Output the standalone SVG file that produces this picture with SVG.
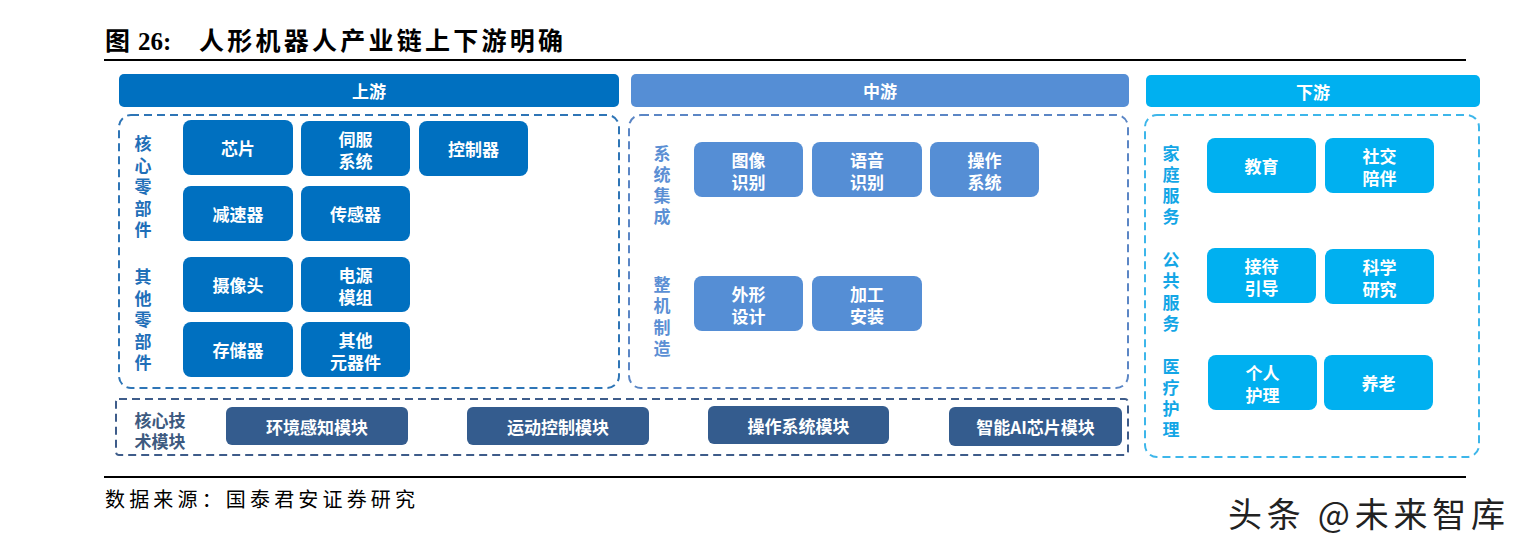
<svg xmlns="http://www.w3.org/2000/svg" width="1523" height="546" viewBox="0 0 1523 546">
<style>
.t{font-family:"Noto Sans CJK SC","Noto Sans",sans-serif;font-weight:700;}
.nt{font-family:"Noto Sans CJK SC","Noto Sans",sans-serif;font-weight:700;font-size:17px;fill:#fff;text-anchor:middle;dominant-baseline:central;}
.lb{font-family:"Noto Sans CJK SC","Noto Sans",sans-serif;font-weight:700;font-size:17px;text-anchor:middle;dominant-baseline:central;}
.up{fill:#0070C0;}
.mid{fill:#558ED5;}
.down{fill:#00B0F0;}
.core{fill:#345C8E;}
.dash{fill:none;stroke-width:2;stroke-dasharray:8 5;}
</style>
<rect width="1523" height="546" fill="#fff"/>
<g id="title">
<text x="105" y="50" class="t" font-size="25" fill="#000">图</text>
<text x="138" y="50" font-family="Liberation Serif,serif" font-weight="700" font-size="25" fill="#000">26:</text>
<text x="199" y="50" class="t" font-size="25" fill="#000" textLength="364" lengthAdjust="spacing">人形机器人产业链上下游明确</text>
<rect x="104" y="59" width="1362" height="2" fill="#000"/>
</g>
<g id="headers">
<rect x="119" y="74" width="500" height="33" rx="5" class="up"/>
<text x="369" y="90.5" class="nt" font-size="16">上游</text>
<rect x="631" y="74" width="498" height="33" rx="5" class="mid"/>
<text x="880" y="90.5" class="nt" font-size="16">中游</text>
<rect x="1146" y="75" width="334" height="32" rx="5" class="down"/>
<text x="1313" y="91" class="nt" font-size="16">下游</text>
</g>
<g id="frames">
<rect x="119" y="115" width="500" height="273" rx="12" class="dash" stroke="#2E75B6"/>
<rect x="629" y="115" width="499" height="273" rx="12" class="dash" stroke="#5B86C5"/>
<rect x="1145" y="115" width="334" height="342" rx="12" class="dash" stroke="#3DB6EA"/>
<rect x="116" y="399" width="1012" height="56" rx="3" class="dash" stroke="#3E5C8A"/>
</g>
<g id="labels">
<text class="lb" fill="#1F6FB8"><tspan x="143" y="142">核</tspan><tspan x="143" y="163.5">心</tspan><tspan x="143" y="185">零</tspan><tspan x="143" y="206.5">部</tspan><tspan x="143" y="228">件</tspan></text>
<text class="lb" fill="#1F6FB8"><tspan x="143" y="275">其</tspan><tspan x="143" y="296.5">他</tspan><tspan x="143" y="318">零</tspan><tspan x="143" y="339.5">部</tspan><tspan x="143" y="361">件</tspan></text>
<text class="lb" fill="#5B8FD4"><tspan x="662" y="152">系</tspan><tspan x="662" y="173">统</tspan><tspan x="662" y="194">集</tspan><tspan x="662" y="215">成</tspan></text>
<text class="lb" fill="#5B8FD4"><tspan x="662" y="283">整</tspan><tspan x="662" y="304">机</tspan><tspan x="662" y="325.5">制</tspan><tspan x="662" y="347">造</tspan></text>
<text class="lb" fill="#13A6E6"><tspan x="1171" y="152">家</tspan><tspan x="1171" y="173">庭</tspan><tspan x="1171" y="194">服</tspan><tspan x="1171" y="215">务</tspan></text>
<text class="lb" fill="#13A6E6"><tspan x="1171" y="258">公</tspan><tspan x="1171" y="279">共</tspan><tspan x="1171" y="300.5">服</tspan><tspan x="1171" y="322">务</tspan></text>
<text class="lb" fill="#13A6E6"><tspan x="1171" y="365">医</tspan><tspan x="1171" y="386">疗</tspan><tspan x="1171" y="407">护</tspan><tspan x="1171" y="428">理</tspan></text>
<text class="lb" fill="#3D5A80" font-size="16"><tspan x="160" y="419">核心技</tspan><tspan x="160" y="440">术模块</tspan></text>
</g>
<g id="n-chip"><rect x="183" y="120" width="110" height="55" rx="8" class="up"/><text x="238" y="147.5" class="nt">芯片</text></g>
<g id="n-servo"><rect x="301" y="121" width="109" height="55" rx="8" class="up"/><text class="nt"><tspan x="355.5" y="137.5">伺服</tspan><tspan x="355.5" y="159.5">系统</tspan></text></g>
<g id="n-controller"><rect x="419" y="121" width="109" height="55" rx="8" class="up"/><text x="473.5" y="148.5" class="nt">控制器</text></g>
<g id="n-reducer"><rect x="183" y="186" width="110" height="55" rx="8" class="up"/><text x="238" y="213.5" class="nt">减速器</text></g>
<g id="n-sensor"><rect x="301" y="186" width="109" height="55" rx="8" class="up"/><text x="355.5" y="213.5" class="nt">传感器</text></g>
<g id="n-camera"><rect x="183" y="257" width="110" height="55" rx="8" class="up"/><text x="238" y="284.5" class="nt">摄像头</text></g>
<g id="n-power"><rect x="301" y="257" width="109" height="55" rx="8" class="up"/><text class="nt"><tspan x="355.5" y="273.5">电源</tspan><tspan x="355.5" y="295.5">模组</tspan></text></g>
<g id="n-storage"><rect x="183" y="322" width="110" height="55" rx="8" class="up"/><text x="238" y="349.5" class="nt">存储器</text></g>
<g id="n-other"><rect x="301" y="322" width="109" height="55" rx="8" class="up"/><text class="nt"><tspan x="355.5" y="338.5">其他</tspan><tspan x="355.5" y="360.5">元器件</tspan></text></g>
<g id="n-image"><rect x="694" y="142" width="109" height="55" rx="8" class="mid"/><text class="nt"><tspan x="748.5" y="158.5">图像</tspan><tspan x="748.5" y="180.5">识别</tspan></text></g>
<g id="n-voice"><rect x="812" y="142" width="110" height="55" rx="8" class="mid"/><text class="nt"><tspan x="867" y="158.5">语音</tspan><tspan x="867" y="180.5">识别</tspan></text></g>
<g id="n-os"><rect x="930" y="142" width="109" height="55" rx="8" class="mid"/><text class="nt"><tspan x="984.5" y="158.5">操作</tspan><tspan x="984.5" y="180.5">系统</tspan></text></g>
<g id="n-design"><rect x="694" y="276" width="109" height="55" rx="8" class="mid"/><text class="nt"><tspan x="748.5" y="292.5">外形</tspan><tspan x="748.5" y="314.5">设计</tspan></text></g>
<g id="n-assembly"><rect x="812" y="276" width="110" height="55" rx="8" class="mid"/><text class="nt"><tspan x="867" y="292.5">加工</tspan><tspan x="867" y="314.5">安装</tspan></text></g>
<g id="n-edu"><rect x="1207" y="138" width="109" height="55" rx="8" class="down"/><text x="1261.5" y="165.5" class="nt">教育</text></g>
<g id="n-social"><rect x="1325" y="138" width="109" height="55" rx="8" class="down"/><text class="nt"><tspan x="1379.5" y="154.5">社交</tspan><tspan x="1379.5" y="176.5">陪伴</tspan></text></g>
<g id="n-reception"><rect x="1207" y="248" width="109" height="55" rx="8" class="down"/><text class="nt"><tspan x="1261.5" y="264.5">接待</tspan><tspan x="1261.5" y="286.5">引导</tspan></text></g>
<g id="n-science"><rect x="1325" y="249" width="109" height="55" rx="8" class="down"/><text class="nt"><tspan x="1379.5" y="265.5">科学</tspan><tspan x="1379.5" y="287.5">研究</tspan></text></g>
<g id="n-care"><rect x="1208" y="355" width="109" height="55" rx="8" class="down"/><text class="nt"><tspan x="1262.5" y="371.5">个人</tspan><tspan x="1262.5" y="393.5">护理</tspan></text></g>
<g id="n-elder"><rect x="1324" y="355" width="109" height="55" rx="8" class="down"/><text x="1378.5" y="382" class="nt">养老</text></g>
<g id="n-env"><rect x="226" y="407" width="182" height="38" rx="6" class="core"/><text x="317" y="426" class="nt">环境感知模块</text></g>
<g id="n-motion"><rect x="467" y="407" width="182" height="38" rx="6" class="core"/><text x="558" y="426" class="nt">运动控制模块</text></g>
<g id="n-osmod"><rect x="708" y="406" width="181" height="38" rx="6" class="core"/><text x="798.5" y="425" class="nt">操作系统模块</text></g>
<g id="n-ai"><rect x="949" y="407" width="173" height="39" rx="6" class="core"/><text x="1035.5" y="426.5" class="nt">智能AI芯片模块</text></g>
<g id="connectors"></g>
<g id="footer">
<rect x="104" y="476" width="1362" height="2" fill="#000"/>
<text x="105" y="507" font-family="Noto Sans CJK SC,sans-serif" font-size="20" fill="#000" textLength="310" lengthAdjust="spacing">数据来源：国泰君安证券研究</text>
<text x="1228" y="527" font-family="Noto Sans CJK SC,sans-serif" font-size="34" fill="#222" textLength="277" lengthAdjust="spacing">头条 @未来智库</text>
</g>
</svg>
